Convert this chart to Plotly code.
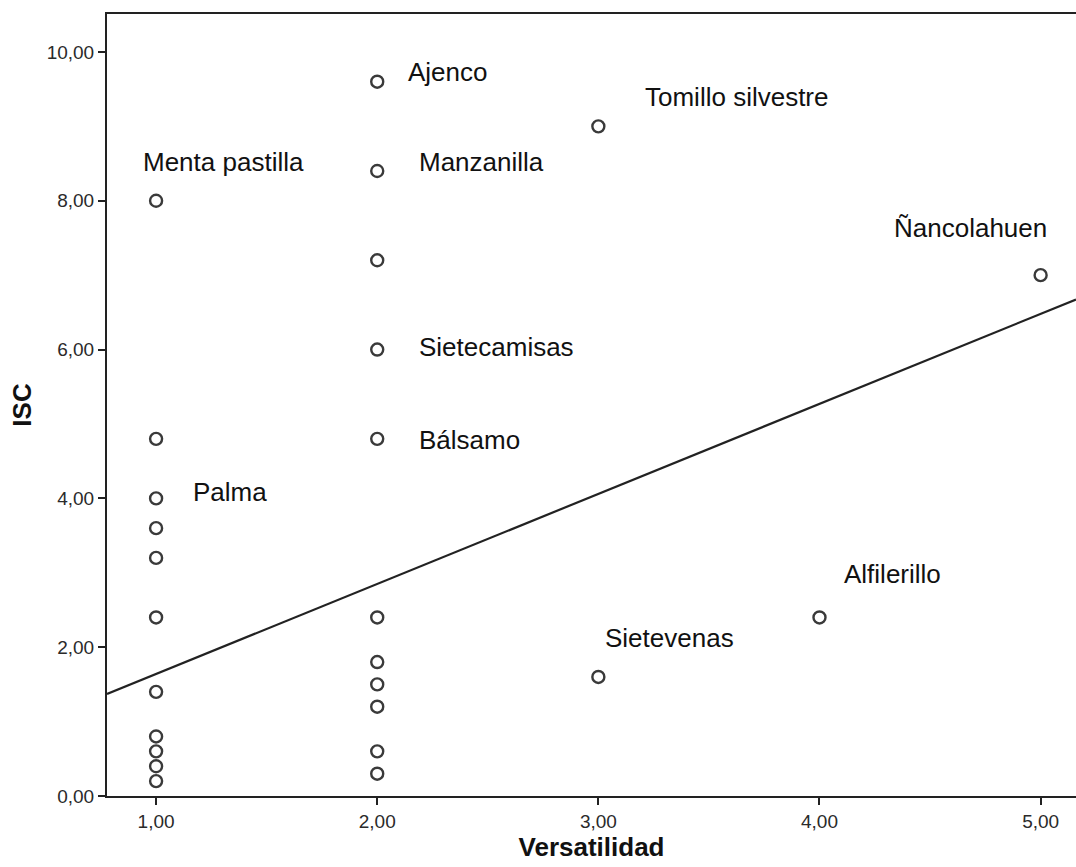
import plotly.graph_objects as go

# ---- data ----
versatilidad = [1]*11 + [2]*11 + [3, 3, 4, 5]
isc = [8.0, 4.8, 4.0, 3.6, 3.2, 2.4, 1.4, 0.8, 0.6, 0.4, 0.2,
       9.6, 8.4, 7.2, 6.0, 4.8, 2.4, 1.8, 1.5, 1.2, 0.6, 0.3,
       9.0, 1.6, 2.4, 7.0]

label_text = ["Menta pastilla", "Palma", "Ajenco", "Manzanilla", "Sietecamisas",
              "Bálsamo", "Tomillo silvestre", "Ñancolahuen", "Alfilerillo", "Sietevenas"]
label_x = [0.93, 1.16, 2.13, 2.18, 2.18, 2.18, 3.20, 4.33, 4.10, 3.02]
label_y = [8.52, 4.09, 9.73, 8.52, 6.03, 4.79, 9.40, 7.64, 2.98, 2.13]

fit_intercept = 0.43
fit_slope = 1.21

x_ticks = [1, 2, 3, 4, 5]
x_tick_text = ["1,00", "2,00", "3,00", "4,00", "5,00"]
y_ticks = [0, 2, 4, 6, 8, 10]
y_tick_text = ["0,00", "2,00", "4,00", "6,00", "8,00", "10,00"]

x_range = [0.778, 5.16]
y_range = [0, 10.51]

fig = go.Figure()

fit_x = x_range
fit_y = [fit_intercept + fit_slope * v for v in fit_x]
fig.add_trace(go.Scatter(x=fit_x, y=fit_y, mode="lines",
                         line=dict(color="#222222", width=2.2),
                         hoverinfo="skip", showlegend=False))

fig.add_trace(go.Scatter(x=versatilidad, y=isc, mode="markers",
                         marker=dict(symbol="circle-open", size=12,
                                     color="#3a3a3a", line=dict(width=2.4, color="#3a3a3a")),
                         showlegend=False))

for t, lx, ly in zip(label_text, label_x, label_y):
    fig.add_annotation(x=lx, y=ly, text=t, showarrow=False, xanchor="left", yanchor="middle",
                       font=dict(family="Liberation Sans, Arial", size=26, color="#111111"))

axis_common = dict(showline=True, linecolor="#222222", linewidth=2,
                   ticks="outside", ticklen=7, tickwidth=2, tickcolor="#222222",
                   showgrid=False, zeroline=False,
                   tickfont=dict(family="Liberation Sans, Arial", size=19, color="#2a2a2a"))

fig.update_xaxes(range=x_range, tickvals=x_ticks, ticktext=x_tick_text, mirror=True,
                 title=dict(text="<b>Versatilidad</b>", standoff=5,
                            font=dict(family="Liberation Sans, Arial", size=26, color="#111111")),
                 **axis_common)
fig.update_yaxes(range=y_range, tickvals=y_ticks, ticktext=y_tick_text, mirror=False,
                 title=dict(text="<b>ISC</b>", standoff=8,
                            font=dict(family="Liberation Sans, Arial", size=26, color="#111111")),
                 **axis_common)

fig.update_layout(width=1076, height=867,
                  margin=dict(l=107, r=0, t=14, b=71),
                  plot_bgcolor="white", paper_bgcolor="white")

fig.write_html("out.html", config={"displayModeBar": False},
               post_script="document.body.style.margin='0';")
